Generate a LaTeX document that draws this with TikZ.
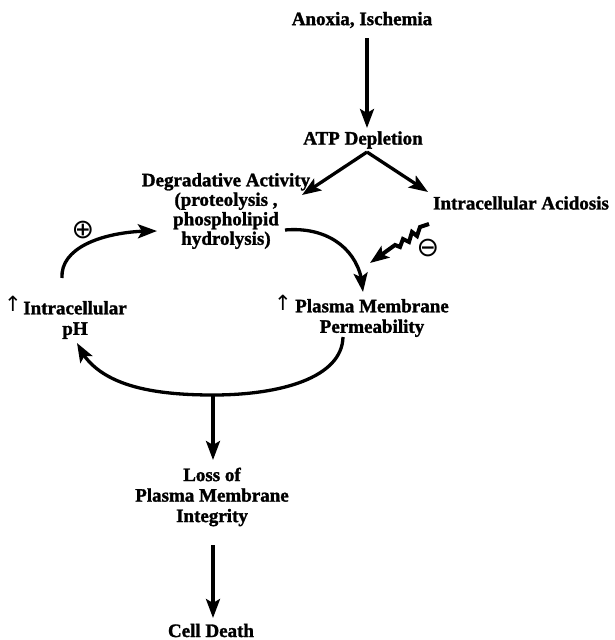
\documentclass[tikz,border=0pt]{standalone}
\usepackage{fontspec}
\setmainfont{Liberation Serif}[BoldFeatures={FakeBold=1.5}]
\newfontfamily\symfont{DejaVu Sans}
\usetikzlibrary{arrows.meta,bending}
\begin{document}
\begin{tikzpicture}[x=1pt,y=-1pt,
  lbl/.style={font=\fontsize{19}{20.5}\selectfont\bfseries, inner sep=0pt, align=center},
  uparr/.style={font=\symfont\fontsize{21}{21}\selectfont, inner sep=0pt},
  opsym/.style={font=\symfont\fontsize{27}{27}\selectfont, inner sep=0pt},
  arr/.style={line width=3.3pt, -{Stealth[length=19pt,width=14pt,inset=4pt]}},
]
\useasboundingbox (0,0) rectangle (614,640);

% nodes
\node[lbl] (anoxia) at (362,20) {Anoxia, Ischemia};
\node[lbl] (atp) at (363,140) {ATP Depletion};
\node[lbl, font=\fontsize{19}{19.5}\selectfont\bfseries] (deg) at (226,211) {Degradative Activity\\(proteolysis ,\\phospholipid\\hydrolysis)};
\node[lbl] (acid) at (521,203) {Intracellular Acidosis};
\node[lbl] (pmp) at (372,318) {Plasma Membrane\\Permeability};
\node[uparr] (up1) at (283,303) {↑};
\node[lbl] (ph) at (75,320) {Intracellular\\pH};
\node[uparr] (up2) at (13,304) {↑};
\node[lbl] (loss) at (212,497) {Loss of\\Plasma Membrane\\Integrity};
\node[lbl, anchor=base] (death) at (211,637) {Cell Death};
\node[opsym] (plus) at (83,230) {⊕};
\node[opsym] (minus) at (428,248) {⊖};

% connector end points
\coordinate (a1s) at (367,38);
\coordinate (a1e) at (367,128);
\coordinate (fork) at (367,152);
\coordinate (degin) at (302,195);
\coordinate (acidin) at (428,192);
\coordinate (degout) at (285,230);
\coordinate (pmpin) at (363,292);
\coordinate (zs) at (429,224);
\coordinate (zin) at (370,263);
\coordinate (phout) at (62,278);
\coordinate (degin2) at (157,231);
\coordinate (pmpout) at (343,337);
\coordinate (bot) at (213,395);
\coordinate (phin) at (77,343);
\coordinate (lossin) at (213,460);
\coordinate (lossout) at (213,545);
\coordinate (deathin) at (213,618);

% connectors
\draw[arr] (a1s) -- (a1e);
\draw[arr] (fork) -- (degin);
\draw[arr] (fork) -- (acidin);
\draw[arr] (degout) .. controls (330,226) and (362,252) .. (pmpin);
\draw[arr, line width=4pt, line join=miter] (zs) -- (420,227) -- (417,236) -- (412,232) -- (409,242) -- (403,239) -- (400,247) -- (395,245) -- (zin);
\draw[arr] (phout) .. controls (60,245) and (110,230) .. (degin2);
\draw[arr] (pmpout) .. controls (342,378) and (280,395) .. (bot) .. controls (150,395) and (95,385) .. (phin);
\draw[arr] (bot) -- (lossin);
\draw[arr] (lossout) -- (deathin);
\end{tikzpicture}
\end{document}
